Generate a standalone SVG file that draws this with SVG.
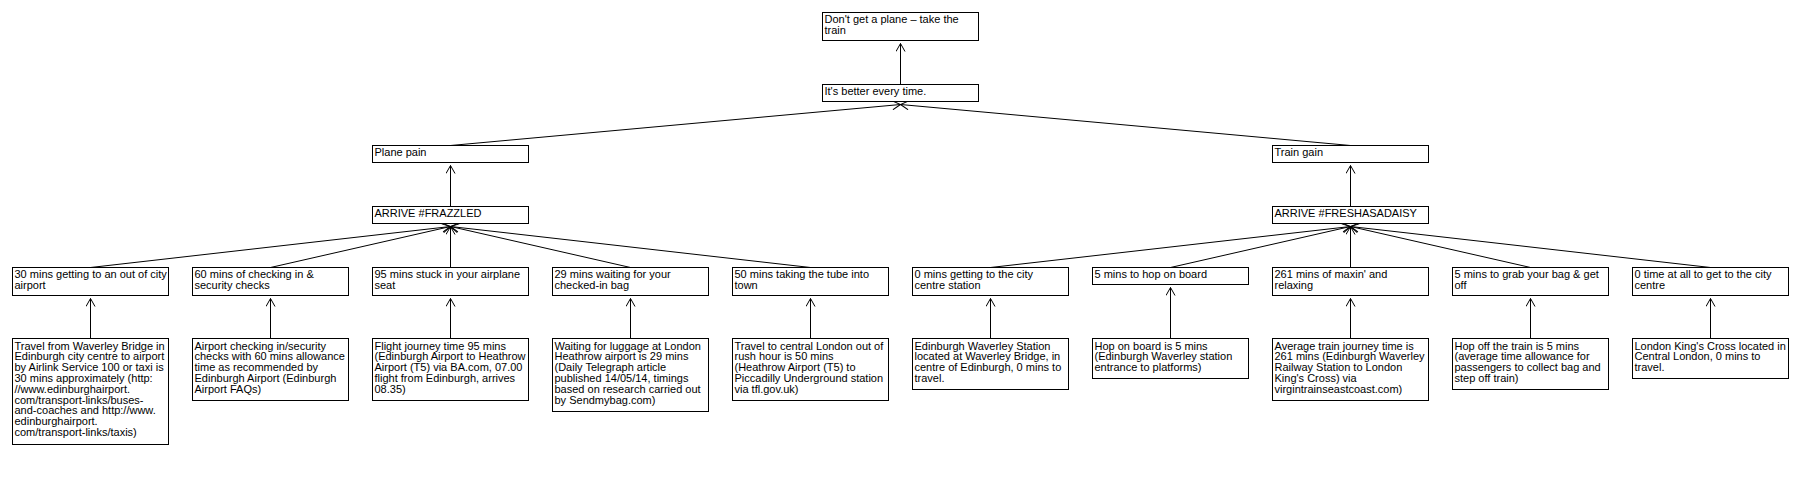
<svg xmlns="http://www.w3.org/2000/svg" width="1800" height="491" viewBox="0 0 1800 491">
<style>
.box{fill:#fff;stroke:#000;stroke-width:1}
.t{font-family:"Liberation Sans",Arial,sans-serif;font-size:11px;fill:#000}
.c{stroke:#000;stroke-width:1;fill:none}
</style>
<defs>
<marker id="arr" markerUnits="userSpaceOnUse" viewBox="-9 -5 10 10" refX="0" refY="0" markerWidth="10" markerHeight="10" orient="auto">
<path d="M-8,-4.5 L0,0 L-8,4.5" fill="none" stroke="#000" stroke-width="1"/>
</marker>
</defs>
<rect x="0" y="0" width="1800" height="491" fill="#fff"/>
<g id="connectors">
<line class="c" x1="900.5" y1="84.5" x2="900.5" y2="43.5" marker-end="url(#arr)"/>
<line class="c" x1="450.5" y1="145.5" x2="900.5" y2="104.5" marker-end="url(#arr)"/>
<line class="c" x1="1350.5" y1="145.5" x2="900.5" y2="104.5" marker-end="url(#arr)"/>
<line class="c" x1="450.5" y1="206.5" x2="450.5" y2="165.5" marker-end="url(#arr)"/>
<line class="c" x1="1350.5" y1="206.5" x2="1350.5" y2="165.5" marker-end="url(#arr)"/>
<line class="c" x1="90.5" y1="267.5" x2="450.5" y2="226.5" marker-end="url(#arr)"/>
<line class="c" x1="270.5" y1="267.5" x2="450.5" y2="226.5" marker-end="url(#arr)"/>
<line class="c" x1="450.5" y1="267.5" x2="450.5" y2="226.5" marker-end="url(#arr)"/>
<line class="c" x1="630.5" y1="267.5" x2="450.5" y2="226.5" marker-end="url(#arr)"/>
<line class="c" x1="810.5" y1="267.5" x2="450.5" y2="226.5" marker-end="url(#arr)"/>
<line class="c" x1="990.5" y1="267.5" x2="1350.5" y2="226.5" marker-end="url(#arr)"/>
<line class="c" x1="1170.5" y1="267.5" x2="1350.5" y2="226.5" marker-end="url(#arr)"/>
<line class="c" x1="1350.5" y1="267.5" x2="1350.5" y2="226.5" marker-end="url(#arr)"/>
<line class="c" x1="1530.5" y1="267.5" x2="1350.5" y2="226.5" marker-end="url(#arr)"/>
<line class="c" x1="1710.5" y1="267.5" x2="1350.5" y2="226.5" marker-end="url(#arr)"/>
<line class="c" x1="90.5" y1="338.5" x2="90.5" y2="298.5" marker-end="url(#arr)"/>
<line class="c" x1="270.5" y1="338.5" x2="270.5" y2="298.5" marker-end="url(#arr)"/>
<line class="c" x1="450.5" y1="338.5" x2="450.5" y2="298.5" marker-end="url(#arr)"/>
<line class="c" x1="630.5" y1="338.5" x2="630.5" y2="298.5" marker-end="url(#arr)"/>
<line class="c" x1="810.5" y1="338.5" x2="810.5" y2="298.5" marker-end="url(#arr)"/>
<line class="c" x1="990.5" y1="338.5" x2="990.5" y2="298.5" marker-end="url(#arr)"/>
<line class="c" x1="1170.5" y1="338.5" x2="1170.5" y2="287.5" marker-end="url(#arr)"/>
<line class="c" x1="1350.5" y1="338.5" x2="1350.5" y2="298.5" marker-end="url(#arr)"/>
<line class="c" x1="1530.5" y1="338.5" x2="1530.5" y2="298.5" marker-end="url(#arr)"/>
<line class="c" x1="1710.5" y1="338.5" x2="1710.5" y2="298.5" marker-end="url(#arr)"/>
</g>
<g id="root"><rect class="box" x="822.5" y="12.5" width="156" height="28"/><text class="t" x="824.5" y="23"><tspan x="824.5">Don't get a plane – take the</tspan><tspan x="824.5" dy="10.8">train</tspan></text></g>
<g id="better"><rect class="box" x="822.5" y="84.5" width="156" height="17"/><text class="t" x="824.5" y="95">It's better every time.</text></g>
<g id="plane"><rect class="box" x="372.5" y="145.5" width="156" height="17"/><text class="t" x="374.5" y="156">Plane pain</text></g>
<g id="train"><rect class="box" x="1272.5" y="145.5" width="156" height="17"/><text class="t" x="1274.5" y="156">Train gain</text></g>
<g id="frazzled"><rect class="box" x="372.5" y="206.5" width="156" height="17"/><text class="t" x="374.5" y="217">ARRIVE #FRAZZLED</text></g>
<g id="fresh"><rect class="box" x="1272.5" y="206.5" width="156" height="17"/><text class="t" x="1274.5" y="217">ARRIVE #FRESHASADAISY</text></g>
<g id="p1"><rect class="box" x="12.5" y="267.5" width="156" height="28"/><text class="t" y="278"><tspan x="14.5">30 mins getting to an out of city</tspan><tspan x="14.5" dy="10.8">airport</tspan></text></g>
<g id="p2"><rect class="box" x="192.5" y="267.5" width="156" height="28"/><text class="t" y="278"><tspan x="194.5">60 mins of checking in &amp;</tspan><tspan x="194.5" dy="10.8">security checks</tspan></text></g>
<g id="p3"><rect class="box" x="372.5" y="267.5" width="156" height="28"/><text class="t" y="278"><tspan x="374.5">95 mins stuck in your airplane</tspan><tspan x="374.5" dy="10.8">seat</tspan></text></g>
<g id="p4"><rect class="box" x="552.5" y="267.5" width="156" height="28"/><text class="t" y="278"><tspan x="554.5">29 mins waiting for your</tspan><tspan x="554.5" dy="10.8">checked-in bag</tspan></text></g>
<g id="p5"><rect class="box" x="732.5" y="267.5" width="156" height="28"/><text class="t" y="278"><tspan x="734.5">50 mins taking the tube into</tspan><tspan x="734.5" dy="10.8">town</tspan></text></g>
<g id="t1"><rect class="box" x="912.5" y="267.5" width="156" height="28"/><text class="t" y="278"><tspan x="914.5">0 mins getting to the city</tspan><tspan x="914.5" dy="10.8">centre station</tspan></text></g>
<g id="t2"><rect class="box" x="1092.5" y="267.5" width="156" height="17"/><text class="t" x="1094.5" y="278">5 mins to hop on board</text></g>
<g id="t3"><rect class="box" x="1272.5" y="267.5" width="156" height="28"/><text class="t" y="278"><tspan x="1274.5">261 mins of maxin' and</tspan><tspan x="1274.5" dy="10.8">relaxing</tspan></text></g>
<g id="t4"><rect class="box" x="1452.5" y="267.5" width="156" height="28"/><text class="t" y="278"><tspan x="1454.5">5 mins to grab your bag &amp; get</tspan><tspan x="1454.5" dy="10.8">off</tspan></text></g>
<g id="t5"><rect class="box" x="1632.5" y="267.5" width="156" height="28"/><text class="t" y="278"><tspan x="1634.5">0 time at all to get to the city</tspan><tspan x="1634.5" dy="10.8">centre</tspan></text></g>
<g id="l1"><rect class="box" x="12.5" y="338.5" width="156" height="106"/><text class="t" y="349.5"><tspan x="14.5">Travel from Waverley Bridge in</tspan><tspan x="14.5" dy="10.8">Edinburgh city centre to airport</tspan><tspan x="14.5" dy="10.8">by Airlink Service 100 or taxi is</tspan><tspan x="14.5" dy="10.8">30 mins approximately (http:</tspan><tspan x="14.5" dy="10.8">//www.edinburghairport.</tspan><tspan x="14.5" dy="10.8">com/transport-links/buses-</tspan><tspan x="14.5" dy="10.8">and-coaches and http://www.</tspan><tspan x="14.5" dy="10.8">edinburghairport.</tspan><tspan x="14.5" dy="10.8">com/transport-links/taxis)</tspan></text></g>
<g id="l2"><rect class="box" x="192.5" y="338.5" width="156" height="62"/><text class="t" y="349.5"><tspan x="194.5">Airport checking in/security</tspan><tspan x="194.5" dy="10.8">checks with 60 mins allowance</tspan><tspan x="194.5" dy="10.8">time as recommended by</tspan><tspan x="194.5" dy="10.8">Edinburgh Airport (Edinburgh</tspan><tspan x="194.5" dy="10.8">Airport FAQs)</tspan></text></g>
<g id="l3"><rect class="box" x="372.5" y="338.5" width="156" height="62"/><text class="t" y="349.5"><tspan x="374.5">Flight journey time 95 mins</tspan><tspan x="374.5" dy="10.8">(Edinburgh Airport to Heathrow</tspan><tspan x="374.5" dy="10.8">Airport (T5) via BA.com, 07.00</tspan><tspan x="374.5" dy="10.8">flight from Edinburgh, arrives</tspan><tspan x="374.5" dy="10.8">08.35)</tspan></text></g>
<g id="l4"><rect class="box" x="552.5" y="338.5" width="156" height="73"/><text class="t" y="349.5"><tspan x="554.5">Waiting for luggage at London</tspan><tspan x="554.5" dy="10.8">Heathrow airport is 29 mins</tspan><tspan x="554.5" dy="10.8">(Daily Telegraph article</tspan><tspan x="554.5" dy="10.8">published 14/05/14, timings</tspan><tspan x="554.5" dy="10.8">based on research carried out</tspan><tspan x="554.5" dy="10.8">by Sendmybag.com)</tspan></text></g>
<g id="l5"><rect class="box" x="732.5" y="338.5" width="156" height="62"/><text class="t" y="349.5"><tspan x="734.5">Travel to central London out of</tspan><tspan x="734.5" dy="10.8">rush hour is 50 mins</tspan><tspan x="734.5" dy="10.8">(Heathrow Airport (T5) to</tspan><tspan x="734.5" dy="10.8">Piccadilly Underground station</tspan><tspan x="734.5" dy="10.8">via tfl.gov.uk)</tspan></text></g>
<g id="l6"><rect class="box" x="912.5" y="338.5" width="156" height="51"/><text class="t" y="349.5"><tspan x="914.5">Edinburgh Waverley Station</tspan><tspan x="914.5" dy="10.8">located at Waverley Bridge, in</tspan><tspan x="914.5" dy="10.8">centre of Edinburgh, 0 mins to</tspan><tspan x="914.5" dy="10.8">travel.</tspan></text></g>
<g id="l7"><rect class="box" x="1092.5" y="338.5" width="156" height="40"/><text class="t" y="349.5"><tspan x="1094.5">Hop on board is 5 mins</tspan><tspan x="1094.5" dy="10.8">(Edinburgh Waverley station</tspan><tspan x="1094.5" dy="10.8">entrance to platforms)</tspan></text></g>
<g id="l8"><rect class="box" x="1272.5" y="338.5" width="156" height="62"/><text class="t" y="349.5"><tspan x="1274.5">Average train journey time is</tspan><tspan x="1274.5" dy="10.8">261 mins (Edinburgh Waverley</tspan><tspan x="1274.5" dy="10.8">Railway Station to London</tspan><tspan x="1274.5" dy="10.8">King's Cross) via</tspan><tspan x="1274.5" dy="10.8">virgintrainseastcoast.com)</tspan></text></g>
<g id="l9"><rect class="box" x="1452.5" y="338.5" width="156" height="51"/><text class="t" y="349.5"><tspan x="1454.5">Hop off the train is 5 mins</tspan><tspan x="1454.5" dy="10.8">(average time allowance for</tspan><tspan x="1454.5" dy="10.8">passengers to collect bag and</tspan><tspan x="1454.5" dy="10.8">step off train)</tspan></text></g>
<g id="l10"><rect class="box" x="1632.5" y="338.5" width="156" height="40"/><text class="t" y="349.5"><tspan x="1634.5">London King's Cross located in</tspan><tspan x="1634.5" dy="10.8">Central London, 0 mins to</tspan><tspan x="1634.5" dy="10.8">travel.</tspan></text></g>
</svg>
